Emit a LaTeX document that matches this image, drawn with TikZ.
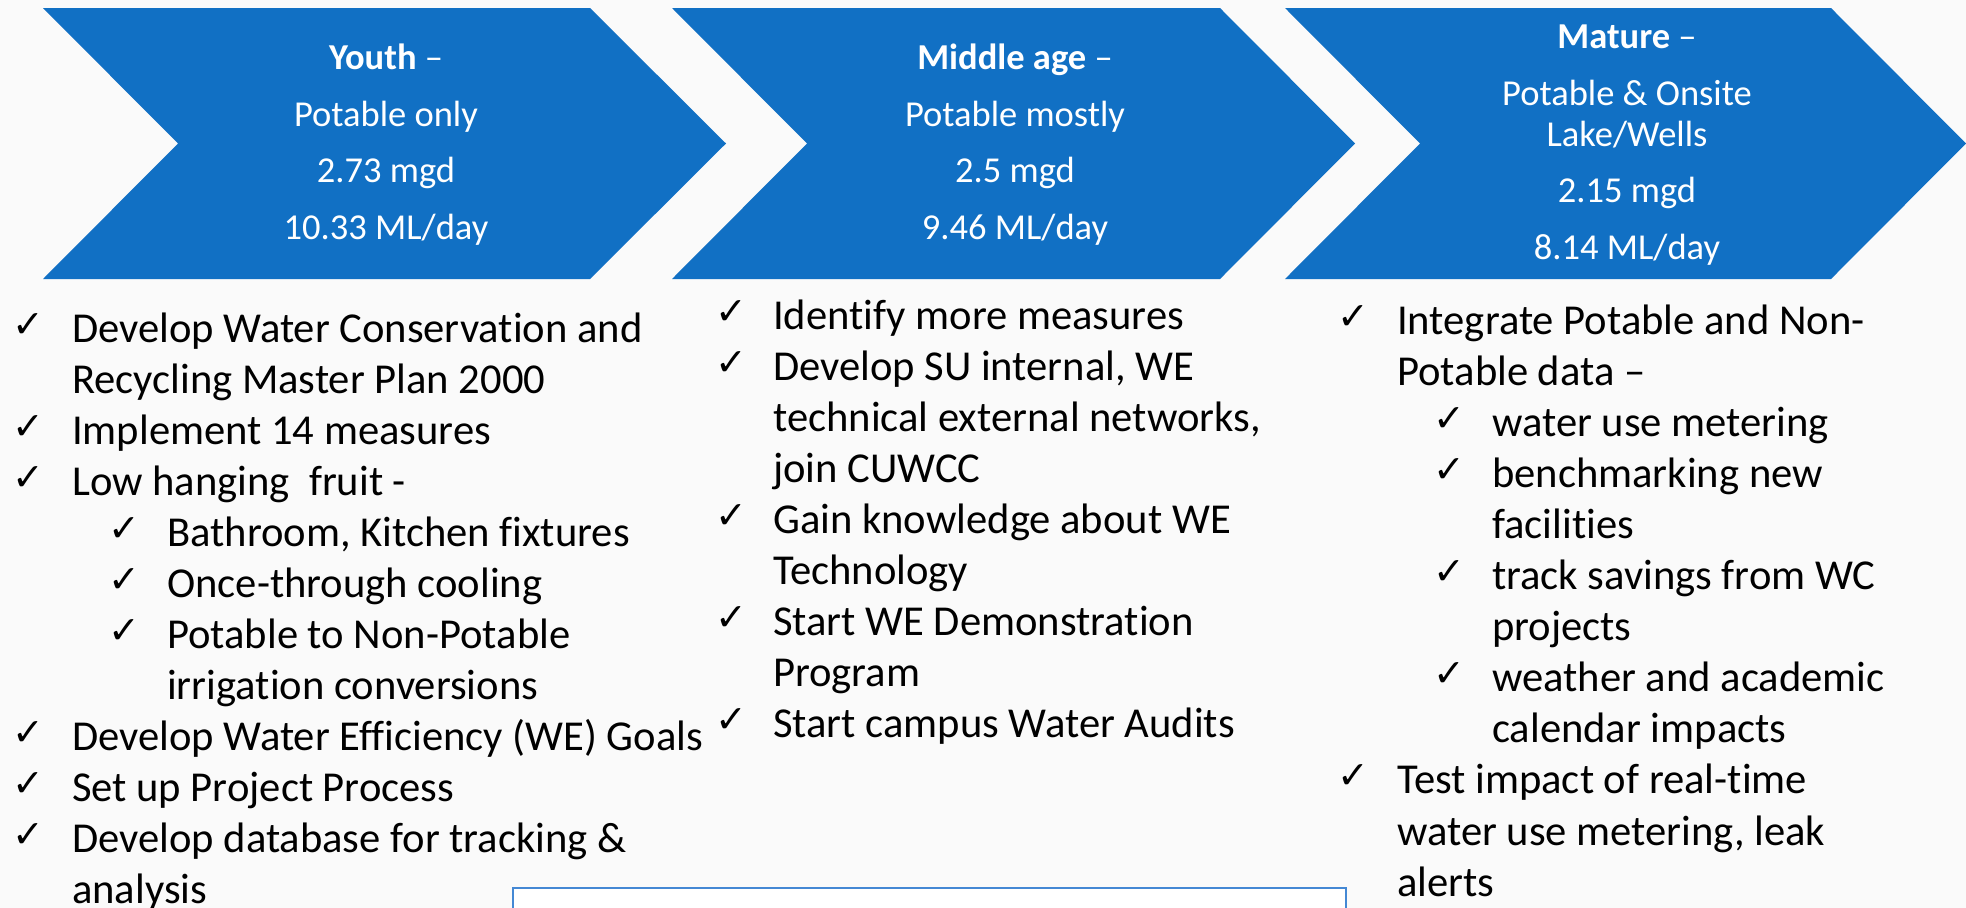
\documentclass[tikz,border=0pt]{standalone}
\usepackage{fontspec}
\setmainfont{Carlito}[Ligatures=NoCommon]
\newfontfamily\checkfont{DejaVu Sans}
\definecolor{chevblue}{RGB}{17,112,196}
\definecolor{boxblue}{RGB}{68,136,212}
\definecolor{paper}{RGB}{250,250,250}
\begin{document}
\begin{tikzpicture}[x=1pt,y=-1pt,
  chev/.style={fill=chevblue,draw=none},
  head/.style={text=white,font=\fontsize{36.5}{44}\selectfont,anchor=base,inner sep=0pt},
  item/.style={font=\fontsize{42.6}{51}\selectfont,anchor=base west,inner sep=0pt},
  tick/.style={font=\checkfont\bfseries\fontsize{38}{44}\selectfont,anchor=base west,inner sep=0pt}]
\useasboundingbox (0,0) rectangle (1966,908);
\fill[paper] (0,0) rectangle (1966,908);

% the three stage chevrons
\fill[chev] (43,8) -- (590,8) -- (726,143.5) -- (590,279) -- (43,279) -- (178,143.5) -- cycle;
\fill[chev] (672,8) -- (1220,8) -- (1355,143.5) -- (1220,279) -- (672,279) -- (807,143.5) -- cycle;
\fill[chev] (1285,8) -- (1831,8) -- (1966,143.5) -- (1831,279) -- (1285,279) -- (1420,143.5) -- cycle;

% stage headings
\node[head] (y1) at (386,69.3) {\textbf{Youth} –};
\node[head] (y2) at (386,126) {Potable only};
\node[head] (y3) at (386,182.7) {2.73 mgd};
\node[head] (y4) at (386,239.3) {10.33 ML/day};

\node[head] (m1) at (1015,69.3) {\textbf{Middle age} –};
\node[head] (m2) at (1015,126) {Potable mostly};
\node[head] (m3) at (1015,182.7) {2.5 mgd};
\node[head] (m4) at (1015,239.3) {9.46 ML/day};

\node[head] (t1) at (1627,48.5) {\textbf{Mature} –};
\node[head] (t2) at (1627,105) {Potable \& Onsite};
\node[head] (t3) at (1627,146) {Lake/Wells};
\node[head] (t4) at (1627,202) {2.15 mgd};
\node[head] (t5) at (1627,259) {8.14 ML/day};

% first column
\node[tick] (ka1) at (12,337) {✓};
\node[item] (a1) at (72,342) {Develop Water Conservation and};
\node[item] (a2) at (72,393) {Recycling Master Plan 2000};
\node[tick] (ka3) at (12,439) {✓};
\node[item] (a3) at (72,444) {Implement 14 measures};
\node[tick] (ka4) at (12,490) {✓};
\node[item] (a4) at (72,495) {Low hanging\ \ fruit -};
\node[tick] (ka5) at (108,541) {✓};
\node[item] (a5) at (167,546) {Bathroom, Kitchen fixtures};
\node[tick] (ka6) at (108,592) {✓};
\node[item] (a6) at (167,597) {Once-through cooling};
\node[tick] (ka7) at (108,643) {✓};
\node[item] (a7) at (167,648) {Potable to Non-Potable};
\node[item] (a8) at (167,699) {irrigation conversions};
\node[tick] (ka9) at (12,745) {✓};
\node[item] (a9) at (72,750) {Develop Water Efficiency (WE) Goals};
\node[tick] (ka10) at (12,796) {✓};
\node[item] (a10) at (72,801) {Set up Project Process};
\node[tick] (ka11) at (12,847) {✓};
\node[item] (a11) at (72,852) {Develop database for tracking \&};
\node[item] (a12) at (72,903) {analysis};

% second column
\node[tick] (kb1) at (715,324.5) {✓};
\node[item] (b1) at (773,329.5) {Identify more measures};
\node[tick] (kb2) at (715,375.5) {✓};
\node[item] (b2) at (773,380.5) {Develop SU internal, WE};
\node[item] (b3) at (773,431.5) {technical external networks,};
\node[item] (b4) at (773,482.5) {join CUWCC};
\node[tick] (kb5) at (715,528.5) {✓};
\node[item] (b5) at (773,533.5) {Gain knowledge about WE};
\node[item] (b6) at (773,584.5) {Technology};
\node[tick] (kb7) at (715,630.5) {✓};
\node[item] (b7) at (773,635.5) {Start WE Demonstration};
\node[item] (b8) at (773,686.5) {Program};
\node[tick] (kb9) at (715,732.5) {✓};
\node[item] (b9) at (773,737.5) {Start campus Water Audits};

% third column
\node[tick] (kc1) at (1337,329) {✓};
\node[item] (c1) at (1397,334) {Integrate Potable and Non-};
\node[item] (c2) at (1397,385.1) {Potable data –};
\node[tick] (kc3) at (1433,431.2) {✓};
\node[item] (c3) at (1492,436.2) {water use metering};
\node[tick] (kc4) at (1433,482.3) {✓};
\node[item] (c4) at (1492,487.3) {benchmarking new};
\node[item] (c5) at (1492,538.4) {facilities};
\node[tick] (kc6) at (1433,584.5) {✓};
\node[item] (c6) at (1492,589.5) {track savings from WC};
\node[item] (c7) at (1492,640.6) {projects};
\node[tick] (kc8) at (1433,686.7) {✓};
\node[item] (c8) at (1492,691.7) {weather and academic};
\node[item] (c9) at (1492,742.8) {calendar impacts};
\node[tick] (kc10) at (1337,788.9) {✓};
\node[item] (c10) at (1397,793.9) {Test impact of real-time};
\node[item] (c11) at (1397,845) {water use metering, leak};
\node[item] (c12) at (1397,896.1) {alerts};

% empty text box along the bottom edge
\draw[boxblue,line width=2pt,fill=white] (513,887.5) rectangle (1346,930);
\end{tikzpicture}
\end{document}
